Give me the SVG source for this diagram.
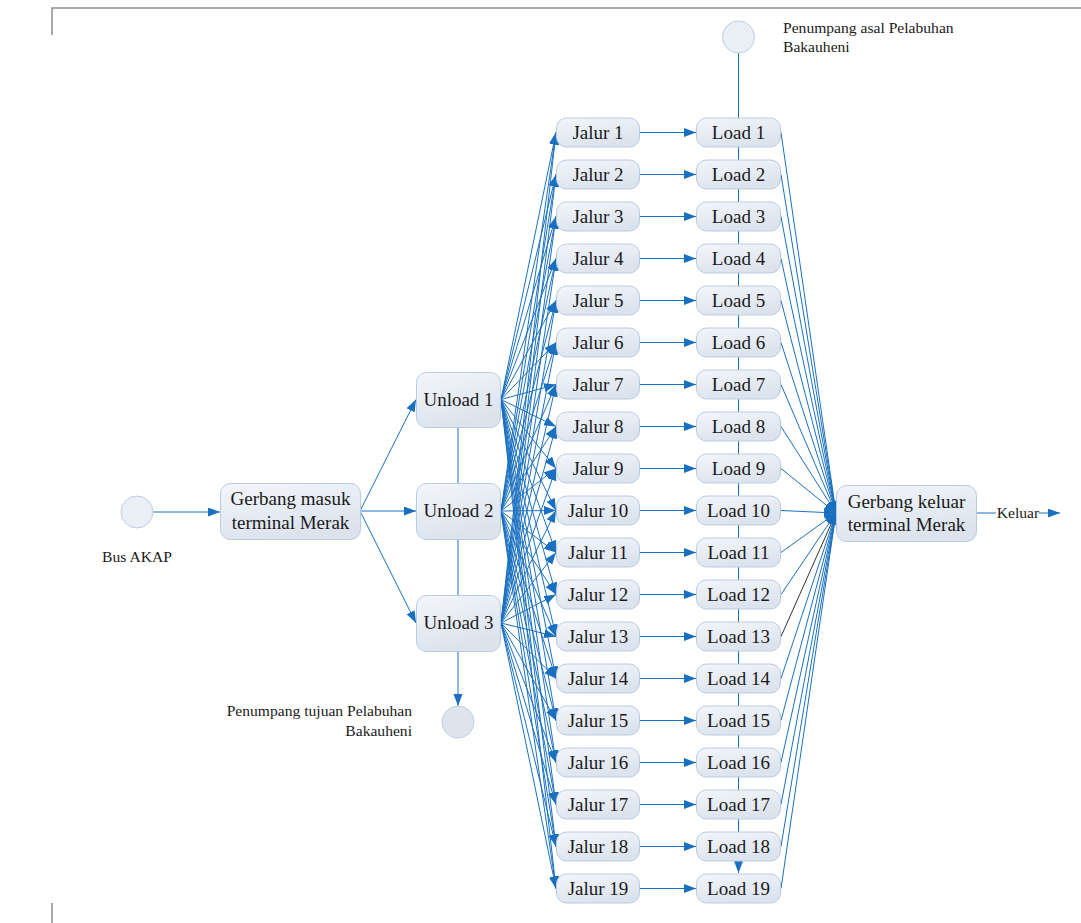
<svg xmlns="http://www.w3.org/2000/svg" width="1081" height="923" viewBox="0 0 1081 923">
<defs>
<linearGradient id="g" x1="0" y1="0" x2="0.4" y2="1">
<stop offset="0" stop-color="#f3f6fb"/>
<stop offset="1" stop-color="#dce3ed"/>
</linearGradient>
<marker id="a" markerUnits="userSpaceOnUse" markerWidth="13" markerHeight="10" refX="12" refY="4.5" orient="auto">
<path d="M0,0 L12,4.5 L0,9 z" fill="#1a70c0"/>
</marker>
</defs>
<style>
.c line{stroke:#1a70c0;stroke-width:1;fill:none}
.m{marker-end:url(#a)}
.b{fill:url(#g);stroke:#b9cbe2;stroke-width:1}
.ci{fill:#eaeff6;stroke:#bccde3;stroke-width:1}
.t{font-family:"Liberation Serif","Times New Roman",serif;font-size:19px;fill:#1a1a1a;text-anchor:middle}
.l{font-family:"Liberation Serif","Times New Roman",serif;font-size:15.6px;fill:#1a1a1a}
.f{stroke:#8a8a8a;stroke-width:1.5;fill:none}
</style>
<rect width="1081" height="923" fill="#ffffff"/>
<path class="f" d="M52,35 L52,8 L1081,8"/>
<path class="f" d="M52,903 L52,923"/>
<g class="c" id="connectors">
<line class="m" x1="153" y1="512" x2="220" y2="512"/>
<line class="m" x1="360" y1="511" x2="416" y2="399.5"/>
<line class="m" x1="360" y1="511" x2="416" y2="511"/>
<line class="m" x1="360" y1="511" x2="416" y2="623"/>
<line class="m" x1="458" y1="427" x2="458" y2="706"/>
<line class="m" x1="738.5" y1="53" x2="738.5" y2="873"/>
<!-- Unload 1 -->
<line class="m" x1="501" y1="399.5" x2="556" y2="132.5"/>
<line class="m" x1="501" y1="399.5" x2="556" y2="174.5"/>
<line class="m" x1="501" y1="399.5" x2="556" y2="216.5"/>
<line class="m" x1="501" y1="399.5" x2="556" y2="258.5"/>
<line class="m" x1="501" y1="399.5" x2="556" y2="300.5"/>
<line class="m" x1="501" y1="399.5" x2="556" y2="342.5"/>
<line class="m" x1="501" y1="399.5" x2="556" y2="384.5"/>
<line class="m" x1="501" y1="399.5" x2="556" y2="426.5"/>
<line class="m" x1="501" y1="399.5" x2="556" y2="468.5"/>
<line class="m" x1="501" y1="399.5" x2="556" y2="510.5"/>
<line class="m" x1="501" y1="399.5" x2="556" y2="552.5"/>
<line class="m" x1="501" y1="399.5" x2="556" y2="594.5"/>
<line class="m" x1="501" y1="399.5" x2="556" y2="636.5"/>
<line class="m" x1="501" y1="399.5" x2="556" y2="678.5"/>
<line class="m" x1="501" y1="399.5" x2="556" y2="720.5"/>
<line class="m" x1="501" y1="399.5" x2="556" y2="762.5"/>
<line class="m" x1="501" y1="399.5" x2="556" y2="804.5"/>
<line class="m" x1="501" y1="399.5" x2="556" y2="846.5"/>
<line class="m" x1="501" y1="399.5" x2="556" y2="888.5"/>
<!-- Unload 2 -->
<line class="m" x1="501" y1="511" x2="556" y2="132.5"/>
<line class="m" x1="501" y1="511" x2="556" y2="174.5"/>
<line class="m" x1="501" y1="511" x2="556" y2="216.5"/>
<line class="m" x1="501" y1="511" x2="556" y2="258.5"/>
<line class="m" x1="501" y1="511" x2="556" y2="300.5"/>
<line class="m" x1="501" y1="511" x2="556" y2="342.5"/>
<line class="m" x1="501" y1="511" x2="556" y2="384.5"/>
<line class="m" x1="501" y1="511" x2="556" y2="426.5"/>
<line class="m" x1="501" y1="511" x2="556" y2="468.5"/>
<line class="m" x1="501" y1="511" x2="556" y2="510.5"/>
<line class="m" x1="501" y1="511" x2="556" y2="552.5"/>
<line class="m" x1="501" y1="511" x2="556" y2="594.5"/>
<line class="m" x1="501" y1="511" x2="556" y2="636.5"/>
<line class="m" x1="501" y1="511" x2="556" y2="678.5"/>
<line class="m" x1="501" y1="511" x2="556" y2="720.5"/>
<line class="m" x1="501" y1="511" x2="556" y2="762.5"/>
<line class="m" x1="501" y1="511" x2="556" y2="804.5"/>
<line class="m" x1="501" y1="511" x2="556" y2="846.5"/>
<line class="m" x1="501" y1="511" x2="556" y2="888.5"/>
<!-- Unload 3 -->
<line class="m" x1="501" y1="623" x2="556" y2="132.5"/>
<line class="m" x1="501" y1="623" x2="556" y2="174.5"/>
<line class="m" x1="501" y1="623" x2="556" y2="216.5"/>
<line class="m" x1="501" y1="623" x2="556" y2="258.5"/>
<line class="m" x1="501" y1="623" x2="556" y2="300.5"/>
<line class="m" x1="501" y1="623" x2="556" y2="342.5"/>
<line class="m" x1="501" y1="623" x2="556" y2="384.5"/>
<line class="m" x1="501" y1="623" x2="556" y2="426.5"/>
<line class="m" x1="501" y1="623" x2="556" y2="468.5"/>
<line class="m" x1="501" y1="623" x2="556" y2="510.5"/>
<line class="m" x1="501" y1="623" x2="556" y2="552.5"/>
<line class="m" x1="501" y1="623" x2="556" y2="594.5"/>
<line class="m" x1="501" y1="623" x2="556" y2="636.5"/>
<line class="m" x1="501" y1="623" x2="556" y2="678.5"/>
<line class="m" x1="501" y1="623" x2="556" y2="720.5"/>
<line class="m" x1="501" y1="623" x2="556" y2="762.5"/>
<line class="m" x1="501" y1="623" x2="556" y2="804.5"/>
<line class="m" x1="501" y1="623" x2="556" y2="846.5"/>
<line class="m" x1="501" y1="623" x2="556" y2="888.5"/>
<!-- Jalur to Load -->
<line class="m" x1="640" y1="132.5" x2="696" y2="132.5"/>
<line class="m" x1="640" y1="174.5" x2="696" y2="174.5"/>
<line class="m" x1="640" y1="216.5" x2="696" y2="216.5"/>
<line class="m" x1="640" y1="258.5" x2="696" y2="258.5"/>
<line class="m" x1="640" y1="300.5" x2="696" y2="300.5"/>
<line class="m" x1="640" y1="342.5" x2="696" y2="342.5"/>
<line class="m" x1="640" y1="384.5" x2="696" y2="384.5"/>
<line class="m" x1="640" y1="426.5" x2="696" y2="426.5"/>
<line class="m" x1="640" y1="468.5" x2="696" y2="468.5"/>
<line class="m" x1="640" y1="510.5" x2="696" y2="510.5"/>
<line class="m" x1="640" y1="552.5" x2="696" y2="552.5"/>
<line class="m" x1="640" y1="594.5" x2="696" y2="594.5"/>
<line class="m" x1="640" y1="636.5" x2="696" y2="636.5"/>
<line class="m" x1="640" y1="678.5" x2="696" y2="678.5"/>
<line class="m" x1="640" y1="720.5" x2="696" y2="720.5"/>
<line class="m" x1="640" y1="762.5" x2="696" y2="762.5"/>
<line class="m" x1="640" y1="804.5" x2="696" y2="804.5"/>
<line class="m" x1="640" y1="846.5" x2="696" y2="846.5"/>
<line class="m" x1="640" y1="888.5" x2="696" y2="888.5"/>
<!-- Load to Gerbang keluar -->
<line class="m" x1="781" y1="132.5" x2="836" y2="513"/>
<line class="m" x1="781" y1="174.5" x2="836" y2="513"/>
<line class="m" x1="781" y1="216.5" x2="836" y2="513"/>
<line class="m" x1="781" y1="258.5" x2="836" y2="513"/>
<line class="m" x1="781" y1="300.5" x2="836" y2="513"/>
<line class="m" x1="781" y1="342.5" x2="836" y2="513"/>
<line class="m" x1="781" y1="384.5" x2="836" y2="513"/>
<line class="m" x1="781" y1="426.5" x2="836" y2="513"/>
<line class="m" x1="781" y1="468.5" x2="836" y2="513"/>
<line class="m" x1="781" y1="510.5" x2="836" y2="513"/>
<line class="m" x1="781" y1="552.5" x2="836" y2="513"/>
<line class="m" x1="781" y1="594.5" x2="836" y2="513"/>
<line class="m" x1="781" y1="636.5" x2="836" y2="513" style="stroke:#333333"/>
<line class="m" x1="781" y1="678.5" x2="836" y2="513"/>
<line class="m" x1="781" y1="720.5" x2="836" y2="513"/>
<line class="m" x1="781" y1="762.5" x2="836" y2="513"/>
<line class="m" x1="781" y1="804.5" x2="836" y2="513"/>
<line class="m" x1="781" y1="846.5" x2="836" y2="513"/>
<line class="m" x1="781" y1="888.5" x2="836" y2="513"/>
<line x1="977" y1="513" x2="996" y2="513"/>
<line class="m" x1="1039" y1="513" x2="1060" y2="513"/>
</g>
<g id="bus"><circle class="ci" cx="137" cy="512" r="16"/><text class="l" x="137" y="562" text-anchor="middle">Bus AKAP</text></g>
<g id="asal"><circle class="ci" cx="738.5" cy="37" r="16"/><text class="l" x="783" y="33">Penumpang asal Pelabuhan</text><text class="l" x="783" y="52">Bakauheni</text></g>
<g id="tujuan"><circle class="ci" cx="458" cy="722" r="16" style="fill:#dfe4ec"/><text class="l" x="412" y="716" text-anchor="end">Penumpang tujuan Pelabuhan</text><text class="l" x="412" y="736" text-anchor="end">Bakauheni</text></g>
<g id="gerbang-masuk"><rect class="b" x="220.5" y="483.5" width="140" height="56" rx="10"/><text class="t" x="290.5" y="505">Gerbang masuk</text><text class="t" x="290.5" y="529">terminal Merak</text></g>
<g id="gerbang-keluar"><rect class="b" x="836.5" y="485.5" width="140" height="56" rx="10"/><text class="t" x="906.5" y="508">Gerbang keluar</text><text class="t" x="906.5" y="531">terminal Merak</text></g>
<g id="keluar"><text class="l" x="1018" y="518" text-anchor="middle">Keluar</text></g>
<g id="unload1"><rect class="b" x="416.5" y="372.5" width="84" height="55" rx="10"/><text class="t" x="458.5" y="406">Unload 1</text></g>
<g id="unload2"><rect class="b" x="416.5" y="483.5" width="84" height="56" rx="10"/><text class="t" x="458.5" y="517">Unload 2</text></g>
<g id="unload3"><rect class="b" x="416.5" y="595.5" width="84" height="56" rx="10"/><text class="t" x="458.5" y="629">Unload 3</text></g>
<g id="jalur1"><rect class="b" x="556.5" y="118" width="83" height="29" rx="10"/><text class="t" x="598" y="139">Jalur 1</text></g>
<g id="jalur2"><rect class="b" x="556.5" y="160" width="83" height="29" rx="10"/><text class="t" x="598" y="181">Jalur 2</text></g>
<g id="jalur3"><rect class="b" x="556.5" y="202" width="83" height="29" rx="10"/><text class="t" x="598" y="223">Jalur 3</text></g>
<g id="jalur4"><rect class="b" x="556.5" y="244" width="83" height="29" rx="10"/><text class="t" x="598" y="265">Jalur 4</text></g>
<g id="jalur5"><rect class="b" x="556.5" y="286" width="83" height="29" rx="10"/><text class="t" x="598" y="307">Jalur 5</text></g>
<g id="jalur6"><rect class="b" x="556.5" y="328" width="83" height="29" rx="10"/><text class="t" x="598" y="349">Jalur 6</text></g>
<g id="jalur7"><rect class="b" x="556.5" y="370" width="83" height="29" rx="10"/><text class="t" x="598" y="391">Jalur 7</text></g>
<g id="jalur8"><rect class="b" x="556.5" y="412" width="83" height="29" rx="10"/><text class="t" x="598" y="433">Jalur 8</text></g>
<g id="jalur9"><rect class="b" x="556.5" y="454" width="83" height="29" rx="10"/><text class="t" x="598" y="475">Jalur 9</text></g>
<g id="jalur10"><rect class="b" x="556.5" y="496" width="83" height="29" rx="10"/><text class="t" x="598" y="517">Jalur 10</text></g>
<g id="jalur11"><rect class="b" x="556.5" y="538" width="83" height="29" rx="10"/><text class="t" x="598" y="559">Jalur 11</text></g>
<g id="jalur12"><rect class="b" x="556.5" y="580" width="83" height="29" rx="10"/><text class="t" x="598" y="601">Jalur 12</text></g>
<g id="jalur13"><rect class="b" x="556.5" y="622" width="83" height="29" rx="10"/><text class="t" x="598" y="643">Jalur 13</text></g>
<g id="jalur14"><rect class="b" x="556.5" y="664" width="83" height="29" rx="10"/><text class="t" x="598" y="685">Jalur 14</text></g>
<g id="jalur15"><rect class="b" x="556.5" y="706" width="83" height="29" rx="10"/><text class="t" x="598" y="727">Jalur 15</text></g>
<g id="jalur16"><rect class="b" x="556.5" y="748" width="83" height="29" rx="10"/><text class="t" x="598" y="769">Jalur 16</text></g>
<g id="jalur17"><rect class="b" x="556.5" y="790" width="83" height="29" rx="10"/><text class="t" x="598" y="811">Jalur 17</text></g>
<g id="jalur18"><rect class="b" x="556.5" y="832" width="83" height="29" rx="10"/><text class="t" x="598" y="853">Jalur 18</text></g>
<g id="jalur19"><rect class="b" x="556.5" y="874" width="83" height="29" rx="10"/><text class="t" x="598" y="895">Jalur 19</text></g>
<g id="load1"><rect class="b" x="696.5" y="118" width="84" height="29" rx="10"/><text class="t" x="738.5" y="139">Load 1</text></g>
<g id="load2"><rect class="b" x="696.5" y="160" width="84" height="29" rx="10"/><text class="t" x="738.5" y="181">Load 2</text></g>
<g id="load3"><rect class="b" x="696.5" y="202" width="84" height="29" rx="10"/><text class="t" x="738.5" y="223">Load 3</text></g>
<g id="load4"><rect class="b" x="696.5" y="244" width="84" height="29" rx="10"/><text class="t" x="738.5" y="265">Load 4</text></g>
<g id="load5"><rect class="b" x="696.5" y="286" width="84" height="29" rx="10"/><text class="t" x="738.5" y="307">Load 5</text></g>
<g id="load6"><rect class="b" x="696.5" y="328" width="84" height="29" rx="10"/><text class="t" x="738.5" y="349">Load 6</text></g>
<g id="load7"><rect class="b" x="696.5" y="370" width="84" height="29" rx="10"/><text class="t" x="738.5" y="391">Load 7</text></g>
<g id="load8"><rect class="b" x="696.5" y="412" width="84" height="29" rx="10"/><text class="t" x="738.5" y="433">Load 8</text></g>
<g id="load9"><rect class="b" x="696.5" y="454" width="84" height="29" rx="10"/><text class="t" x="738.5" y="475">Load 9</text></g>
<g id="load10"><rect class="b" x="696.5" y="496" width="84" height="29" rx="10"/><text class="t" x="738.5" y="517">Load 10</text></g>
<g id="load11"><rect class="b" x="696.5" y="538" width="84" height="29" rx="10"/><text class="t" x="738.5" y="559">Load 11</text></g>
<g id="load12"><rect class="b" x="696.5" y="580" width="84" height="29" rx="10"/><text class="t" x="738.5" y="601">Load 12</text></g>
<g id="load13"><rect class="b" x="696.5" y="622" width="84" height="29" rx="10"/><text class="t" x="738.5" y="643">Load 13</text></g>
<g id="load14"><rect class="b" x="696.5" y="664" width="84" height="29" rx="10"/><text class="t" x="738.5" y="685">Load 14</text></g>
<g id="load15"><rect class="b" x="696.5" y="706" width="84" height="29" rx="10"/><text class="t" x="738.5" y="727">Load 15</text></g>
<g id="load16"><rect class="b" x="696.5" y="748" width="84" height="29" rx="10"/><text class="t" x="738.5" y="769">Load 16</text></g>
<g id="load17"><rect class="b" x="696.5" y="790" width="84" height="29" rx="10"/><text class="t" x="738.5" y="811">Load 17</text></g>
<g id="load18"><rect class="b" x="696.5" y="832" width="84" height="29" rx="10"/><text class="t" x="738.5" y="853">Load 18</text></g>
<g id="load19"><rect class="b" x="696.5" y="874" width="84" height="29" rx="10"/><text class="t" x="738.5" y="895">Load 19</text></g>
</svg>
